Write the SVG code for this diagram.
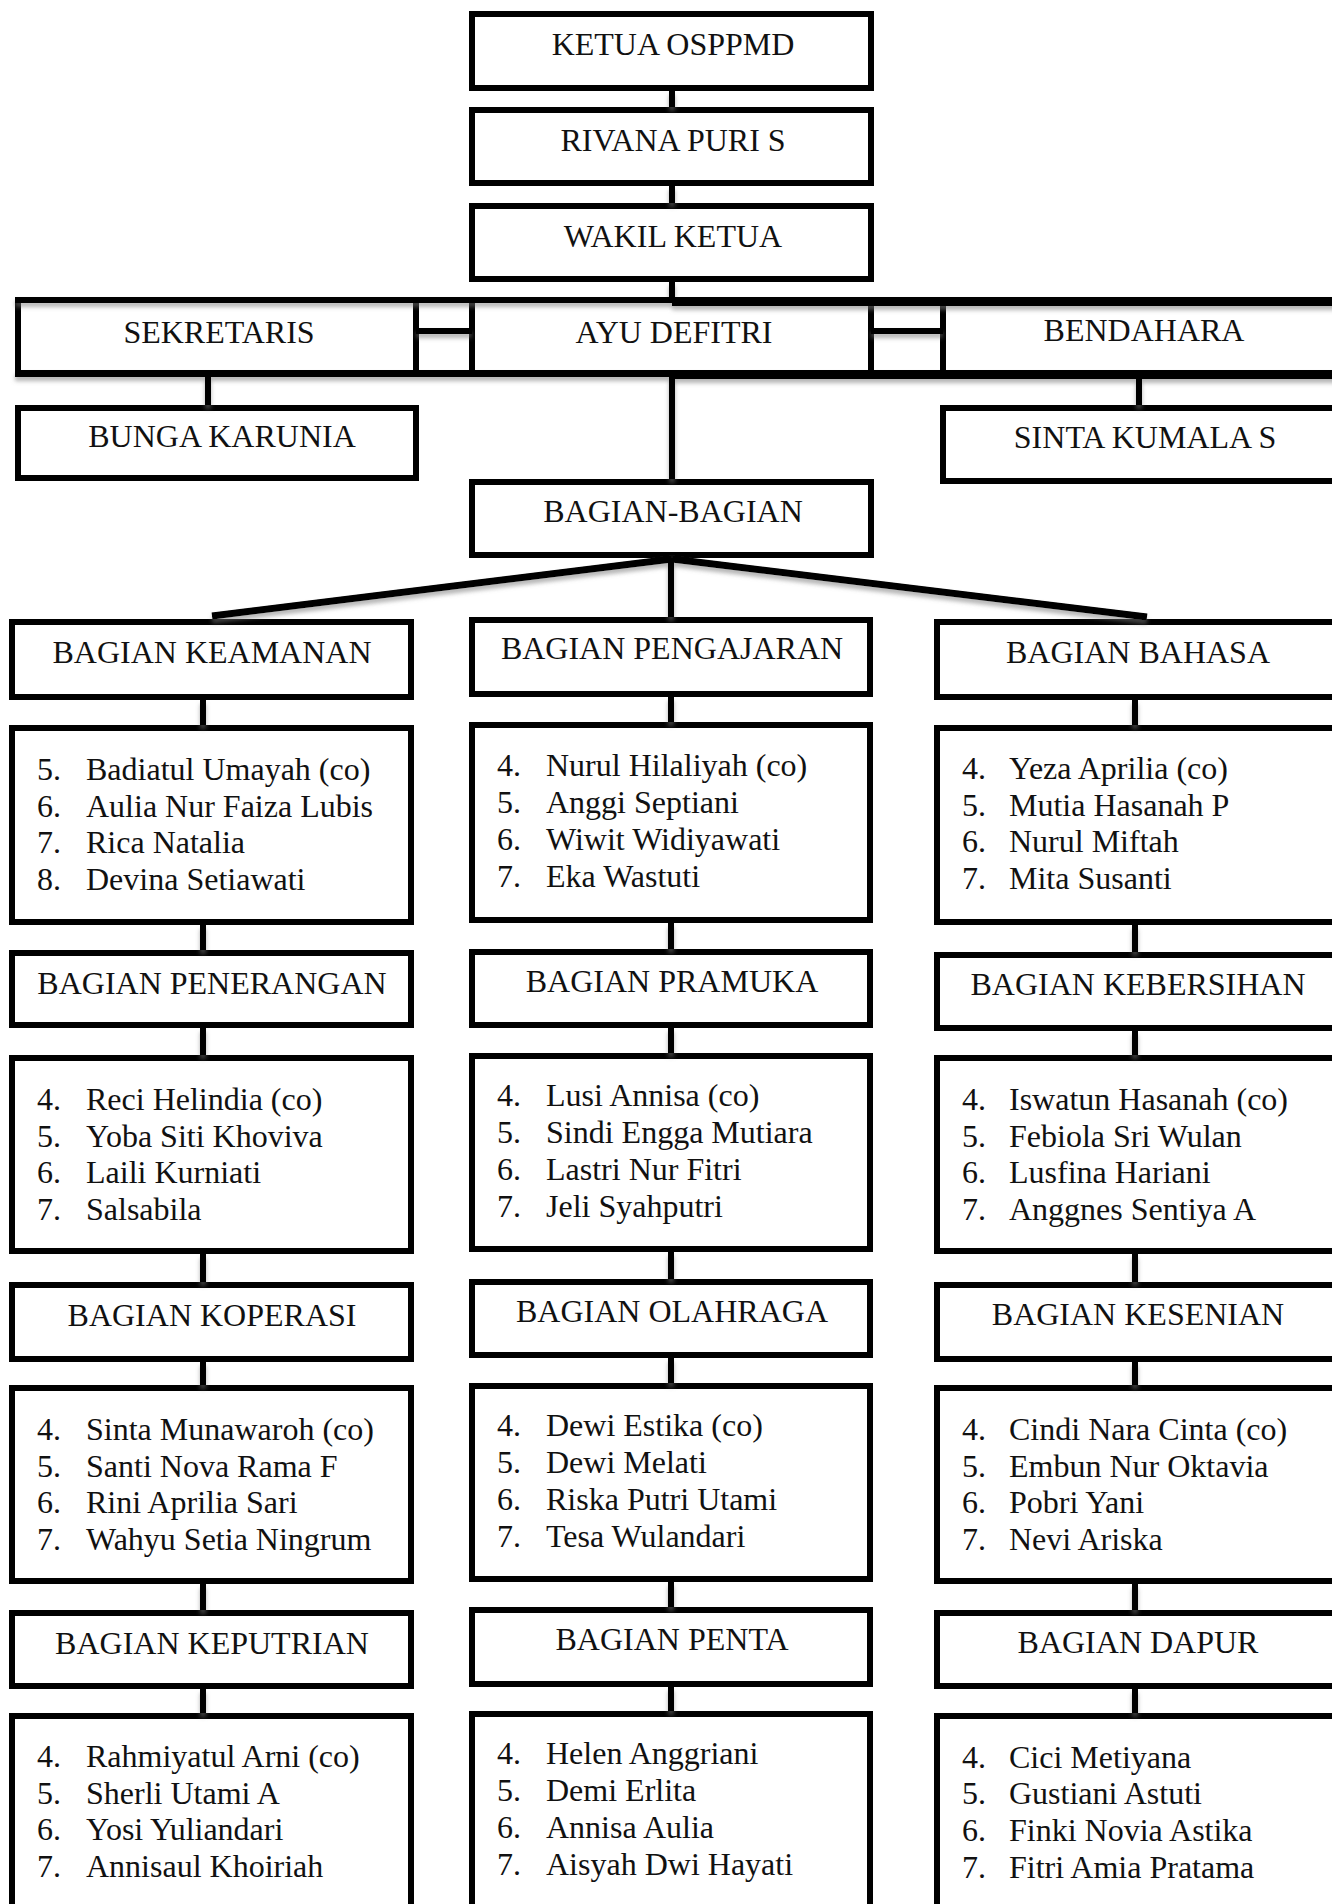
<svg xmlns="http://www.w3.org/2000/svg" width="1332" height="1904" viewBox="0 0 1332 1904">
<style>
.box{fill:#fff;stroke:#000;stroke-width:6}
.t{font-family:"Liberation Serif","Times New Roman",serif;font-size:32px;fill:#111}
.m{text-anchor:middle}
.ln{stroke:#000;stroke-width:6;fill:none}
.dg{stroke:#000;stroke-width:7;fill:none}
</style>
<defs>
<filter id="sh" x="-50%" y="-50%" width="200%" height="200%">
<feGaussianBlur in="SourceAlpha" stdDeviation="2" result="bl"/>
<feOffset in="bl" dx="0" dy="4" result="of"/>
<feFlood flood-color="#777" flood-opacity="0.55"/>
<feComposite in2="of" operator="in" result="s"/>
<feMerge><feMergeNode in="s"/><feMergeNode in="SourceGraphic"/></feMerge>
</filter>
</defs>
<rect width="1332" height="1904" fill="#fff"/>

<g id="ketua"><rect class="box" x="472" y="14" width="399" height="74"/><text class="t m" x="673" y="55">KETUA OSPPMD</text></g>
<g id="rivana"><rect class="box" x="472" y="110" width="399" height="73"/><text class="t m" x="673" y="151">RIVANA PURI S</text></g>
<g id="wakil"><rect class="box" x="472" y="206" width="399" height="73"/><text class="t m" x="673" y="247">WAKIL KETUA</text></g>

<g id="sekretaris"><rect class="box" x="18" y="300" width="398" height="74"/><text class="t m" x="219" y="343">SEKRETARIS</text></g>
<g id="ayu"><rect class="box" x="472" y="300" width="399" height="74"/><text class="t m" x="674" y="343">AYU DEFITRI</text></g>
<g id="bendahara"><rect class="box" x="943" y="300" width="399" height="74"/><text class="t m" x="1144" y="341">BENDAHARA</text></g>
<g id="bunga"><rect class="box" x="18" y="408" width="398" height="70"/><text class="t m" x="222" y="447">BUNGA KARUNIA</text></g>
<g id="sinta"><rect class="box" x="943" y="408" width="399" height="73"/><text class="t m" x="1145" y="448">SINTA KUMALA S</text></g>
<g id="bagian"><rect class="box" x="472" y="482" width="399" height="73"/><text class="t m" x="673" y="522">BAGIAN-BAGIAN</text></g>

<!-- Column 1 -->
<g id="keamanan"><rect class="box" x="12" y="622" width="399" height="75"/><text class="t m" x="212" y="663">BAGIAN KEAMANAN</text></g>
<g id="keamanan-list"><rect class="box" x="12" y="728" width="399" height="194"/>
<text class="t" y="780"><tspan x="37">5.</tspan><tspan x="86">Badiatul Umayah (co)</tspan></text>
<text class="t" y="817"><tspan x="37">6.</tspan><tspan x="86">Aulia Nur Faiza Lubis</tspan></text>
<text class="t" y="853"><tspan x="37">7.</tspan><tspan x="86">Rica Natalia</tspan></text>
<text class="t" y="890"><tspan x="37">8.</tspan><tspan x="86">Devina Setiawati</tspan></text></g>
<g id="penerangan"><rect class="box" x="12" y="953" width="399" height="72"/><text class="t m" x="212" y="994">BAGIAN PENERANGAN</text></g>
<g id="penerangan-list"><rect class="box" x="12" y="1058" width="399" height="193"/>
<text class="t" y="1110"><tspan x="37">4.</tspan><tspan x="86">Reci Helindia (co)</tspan></text>
<text class="t" y="1147"><tspan x="37">5.</tspan><tspan x="86">Yoba Siti Khoviva</tspan></text>
<text class="t" y="1183"><tspan x="37">6.</tspan><tspan x="86">Laili Kurniati</tspan></text>
<text class="t" y="1220"><tspan x="37">7.</tspan><tspan x="86">Salsabila</tspan></text></g>
<g id="koperasi"><rect class="box" x="12" y="1285" width="399" height="74"/><text class="t m" x="212" y="1326">BAGIAN KOPERASI</text></g>
<g id="koperasi-list"><rect class="box" x="12" y="1388" width="399" height="193"/>
<text class="t" y="1440"><tspan x="37">4.</tspan><tspan x="86">Sinta Munawaroh (co)</tspan></text>
<text class="t" y="1477"><tspan x="37">5.</tspan><tspan x="86">Santi Nova Rama F</tspan></text>
<text class="t" y="1513"><tspan x="37">6.</tspan><tspan x="86">Rini Aprilia Sari</tspan></text>
<text class="t" y="1550"><tspan x="37">7.</tspan><tspan x="86">Wahyu Setia Ningrum</tspan></text></g>
<g id="keputrian"><rect class="box" x="12" y="1613" width="399" height="73"/><text class="t m" x="212" y="1654">BAGIAN KEPUTRIAN</text></g>
<g id="keputrian-list"><rect class="box" x="12" y="1716" width="399" height="300"/>
<text class="t" y="1767"><tspan x="37">4.</tspan><tspan x="86">Rahmiyatul Arni (co)</tspan></text>
<text class="t" y="1804"><tspan x="37">5.</tspan><tspan x="86">Sherli Utami A</tspan></text>
<text class="t" y="1840"><tspan x="37">6.</tspan><tspan x="86">Yosi Yuliandari</tspan></text>
<text class="t" y="1877"><tspan x="37">7.</tspan><tspan x="86">Annisaul Khoiriah</tspan></text></g>

<!-- Column 2 -->
<g id="pengajaran"><rect class="box" x="472" y="620" width="398" height="74"/><text class="t m" x="672" y="659">BAGIAN PENGAJARAN</text></g>
<g id="pengajaran-list"><rect class="box" x="472" y="725" width="398" height="195"/>
<text class="t" y="776"><tspan x="497">4.</tspan><tspan x="546">Nurul Hilaliyah (co)</tspan></text>
<text class="t" y="813"><tspan x="497">5.</tspan><tspan x="546">Anggi Septiani</tspan></text>
<text class="t" y="850"><tspan x="497">6.</tspan><tspan x="546">Wiwit Widiyawati</tspan></text>
<text class="t" y="887"><tspan x="497">7.</tspan><tspan x="546">Eka Wastuti</tspan></text></g>
<g id="pramuka"><rect class="box" x="472" y="952" width="398" height="73"/><text class="t m" x="672" y="992">BAGIAN PRAMUKA</text></g>
<g id="pramuka-list"><rect class="box" x="472" y="1056" width="398" height="193"/>
<text class="t" y="1106"><tspan x="497">4.</tspan><tspan x="546">Lusi Annisa (co)</tspan></text>
<text class="t" y="1143"><tspan x="497">5.</tspan><tspan x="546">Sindi Engga Mutiara</tspan></text>
<text class="t" y="1180"><tspan x="497">6.</tspan><tspan x="546">Lastri Nur Fitri</tspan></text>
<text class="t" y="1217"><tspan x="497">7.</tspan><tspan x="546">Jeli Syahputri</tspan></text></g>
<g id="olahraga"><rect class="box" x="472" y="1282" width="398" height="73"/><text class="t m" x="672" y="1322">BAGIAN OLAHRAGA</text></g>
<g id="olahraga-list"><rect class="box" x="472" y="1386" width="398" height="193"/>
<text class="t" y="1436"><tspan x="497">4.</tspan><tspan x="546">Dewi Estika (co)</tspan></text>
<text class="t" y="1473"><tspan x="497">5.</tspan><tspan x="546">Dewi Melati</tspan></text>
<text class="t" y="1510"><tspan x="497">6.</tspan><tspan x="546">Riska Putri Utami</tspan></text>
<text class="t" y="1547"><tspan x="497">7.</tspan><tspan x="546">Tesa Wulandari</tspan></text></g>
<g id="penta"><rect class="box" x="472" y="1610" width="398" height="74"/><text class="t m" x="672" y="1650">BAGIAN PENTA</text></g>
<g id="penta-list"><rect class="box" x="472" y="1714" width="398" height="300"/>
<text class="t" y="1764"><tspan x="497">4.</tspan><tspan x="546">Helen Anggriani</tspan></text>
<text class="t" y="1801"><tspan x="497">5.</tspan><tspan x="546">Demi Erlita</tspan></text>
<text class="t" y="1838"><tspan x="497">6.</tspan><tspan x="546">Annisa Aulia</tspan></text>
<text class="t" y="1875"><tspan x="497">7.</tspan><tspan x="546">Aisyah Dwi Hayati</tspan></text></g>

<!-- Column 3 -->
<g id="bahasa"><rect class="box" x="937" y="622" width="402" height="75"/><text class="t m" x="1138" y="663">BAGIAN BAHASA</text></g>
<g id="bahasa-list"><rect class="box" x="937" y="728" width="402" height="194"/>
<text class="t" y="779"><tspan x="962">4.</tspan><tspan x="1009">Yeza Aprilia (co)</tspan></text>
<text class="t" y="816"><tspan x="962">5.</tspan><tspan x="1009">Mutia Hasanah P</tspan></text>
<text class="t" y="852"><tspan x="962">6.</tspan><tspan x="1009">Nurul Miftah</tspan></text>
<text class="t" y="889"><tspan x="962">7.</tspan><tspan x="1009">Mita Susanti</tspan></text></g>
<g id="kebersihan"><rect class="box" x="937" y="955" width="402" height="73"/><text class="t m" x="1138" y="995">BAGIAN KEBERSIHAN</text></g>
<g id="kebersihan-list"><rect class="box" x="937" y="1058" width="402" height="193"/>
<text class="t" y="1110"><tspan x="962">4.</tspan><tspan x="1009">Iswatun Hasanah (co)</tspan></text>
<text class="t" y="1147"><tspan x="962">5.</tspan><tspan x="1009">Febiola Sri Wulan</tspan></text>
<text class="t" y="1183"><tspan x="962">6.</tspan><tspan x="1009">Lusfina Hariani</tspan></text>
<text class="t" y="1220"><tspan x="962">7.</tspan><tspan x="1009">Anggnes Sentiya A</tspan></text></g>
<g id="kesenian"><rect class="box" x="937" y="1285" width="402" height="74"/><text class="t m" x="1138" y="1325">BAGIAN KESENIAN</text></g>
<g id="kesenian-list"><rect class="box" x="937" y="1388" width="402" height="193"/>
<text class="t" y="1440"><tspan x="962">4.</tspan><tspan x="1009">Cindi Nara Cinta (co)</tspan></text>
<text class="t" y="1477"><tspan x="962">5.</tspan><tspan x="1009">Embun Nur Oktavia</tspan></text>
<text class="t" y="1513"><tspan x="962">6.</tspan><tspan x="1009">Pobri Yani</tspan></text>
<text class="t" y="1550"><tspan x="962">7.</tspan><tspan x="1009">Nevi Ariska</tspan></text></g>
<g id="dapur"><rect class="box" x="937" y="1613" width="402" height="73"/><text class="t m" x="1138" y="1653">BAGIAN DAPUR</text></g>
<g id="dapur-list"><rect class="box" x="937" y="1716" width="402" height="300"/>
<text class="t" y="1768"><tspan x="962">4.</tspan><tspan x="1009">Cici Metiyana</tspan></text>
<text class="t" y="1804"><tspan x="962">5.</tspan><tspan x="1009">Gustiani Astuti</tspan></text>
<text class="t" y="1841"><tspan x="962">6.</tspan><tspan x="1009">Finki Novia Astika</tspan></text>
<text class="t" y="1878"><tspan x="962">7.</tspan><tspan x="1009">Fitri Amia Pratama</tspan></text></g>

<g id="connectors" filter="url(#sh)">
<path class="ln" d="M672 91V107M672 186V203M672 282V299"/>
<rect x="15" y="297" width="660" height="6" fill="#000"/>
<rect x="672" y="297" width="670" height="9" fill="#000"/>
<rect x="15" y="370" width="660" height="7" fill="#000"/>
<rect x="672" y="370" width="670" height="9" fill="#000"/>
<path class="ln" d="M416 331H472M871 331H943"/>
<path class="ln" d="M208 377V405M1139 379V405M672 377V479"/>
<path class="dg" d="M672 559L212 616M672 559L1147 617"/>
<path class="ln" d="M671 558V617"/>
<path class="ln" d="M203 700V725M203 925V950M203 1028V1055M203 1254V1282M203 1362V1385M203 1584V1610M203 1689V1713"/>
<path class="ln" d="M671 697V722M671 923V949M671 1028V1053M671 1252V1279M671 1358V1383M671 1582V1607M671 1687V1711"/>
<path class="ln" d="M1135 700V725M1135 925V952M1135 1031V1055M1135 1254V1282M1135 1362V1385M1135 1584V1610M1135 1689V1713"/>
</g>
</svg>
